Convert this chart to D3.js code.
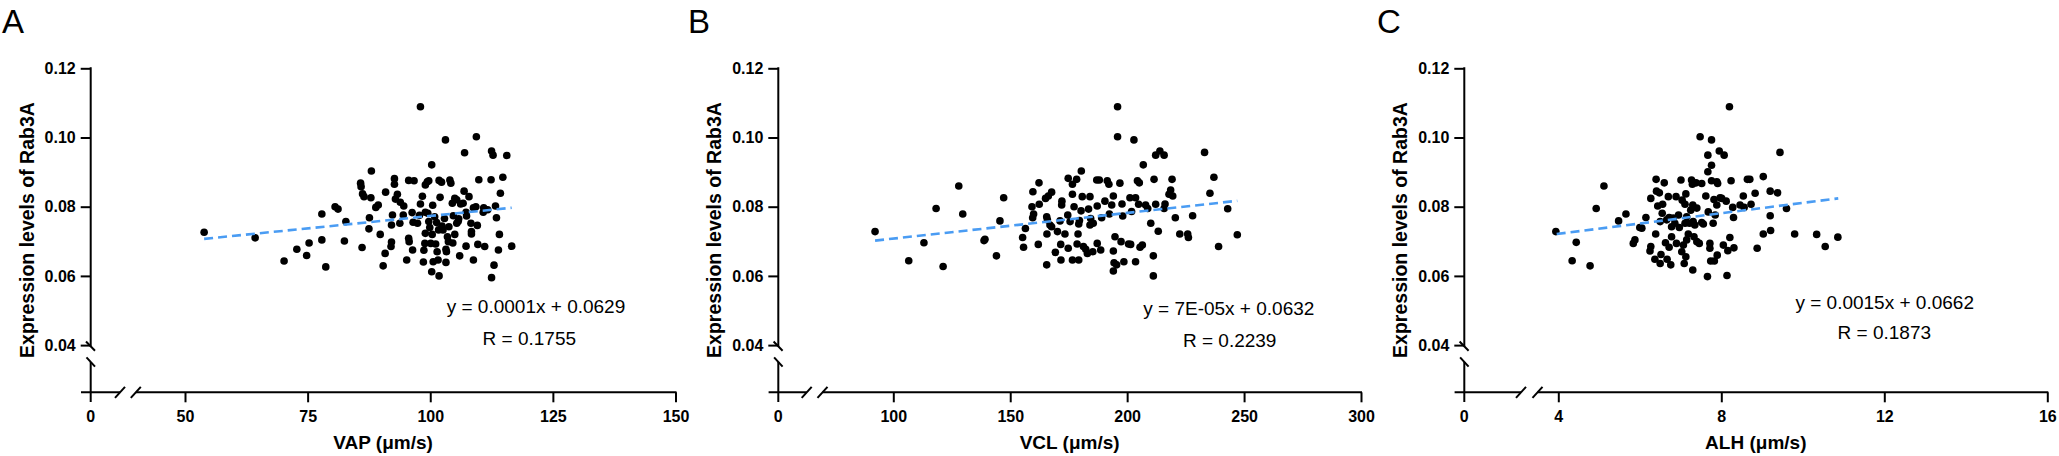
<!DOCTYPE html>
<html>
<head>
<meta charset="utf-8">
<script src="https://cdn.jsdelivr.net/npm/d3@7"></script>
<style>
  html, body { margin: 0; padding: 0; background: #fff; }
  svg { display: block; }
</style>
</head>
<body>
<svg id="chart" width="2059" height="456"></svg>
<script>
// ---------------- DATA ----------------
const yTickValues = [0.04, 0.06, 0.08, 0.10, 0.12];
const yTickLabels = ["0.04", "0.06", "0.08", "0.10", "0.12"];
const yAxisTitle = "Expression levels of Rab3A";

// Panel A: VAP
const vapTicks = [0, 50, 75, 100, 125, 150];
const vapX = [53.9,64.3,70.2,72.8,74.8,75.3,77.9,77.9,78.7,80.6,81.2,82.8,82.5,86.1,85.8,85.9,86.2,86.5,88.0,87.9,87.6,87.5,88.9,89.4,89.8,90.4,90.8,90.9,92.0,92.1,92.3,92.1,92.7,92.7,92.9,93.3,93.8,94.5,94.6,93.9,95.2,95.6,95.7,95.6,96.7,96.4,96.3,96.5,97.4,97.8,98.0,98.0,98.4,98.7,98.6,98.9,99.0,99.0,99.4,99.7,99.5,99.7,99.9,100.3,100.3,100.5,100.4,100.6,100.9,101.1,101.4,101.6,101.8,101.7,101.8,102.0,102.3,102.4,102.9,103.1,103.2,103.2,103.3,103.5,103.8,104.0,104.2,104.5,104.7,104.6,105.0,105.0,105.4,105.7,105.8,106.0,106.2,106.7,106.9,107.0,107.3,107.3,107.4,107.9,108.3,108.4,108.4,108.8,108.8,109.3,109.4,109.6,109.7,109.9,110.8,110.9,111.1,111.7,112.4,112.5,112.8,113.0,112.5,113.3,113.5,113.9,114.1,114.3,114.8,115.6,116.6,99.0,101.3,102.6,105.4,100.1,103.7];
const vapY = [0.0726,0.0710,0.0643,0.0677,0.0659,0.0695,0.0779,0.0704,0.0626,0.0800,0.0793,0.0757,0.0701,0.0682,0.0868,0.0858,0.0837,0.0829,0.0903,0.0826,0.0768,0.0736,0.0798,0.0805,0.0720,0.0629,0.0665,0.0842,0.0685,0.0698,0.0776,0.0747,0.0881,0.0865,0.0822,0.0836,0.0752,0.0776,0.0802,0.0813,0.0646,0.0709,0.0699,0.0876,0.0875,0.0675,0.0783,0.0755,0.0752,0.0775,0.1089,0.0808,0.0830,0.0674,0.0640,0.0694,0.0723,0.0863,0.0872,0.0875,0.0781,0.0757,0.0740,0.0921,0.0612,0.0804,0.0720,0.0641,0.0771,0.0692,0.0670,0.0646,0.0600,0.0733,0.0876,0.0827,0.0871,0.0744,0.0766,0.0993,0.0639,0.0677,0.0670,0.0713,0.0742,0.0877,0.0868,0.0810,0.0774,0.0695,0.0720,0.0824,0.0820,0.0758,0.0765,0.0658,0.0808,0.0810,0.0845,0.0956,0.0784,0.0686,0.0773,0.0829,0.0752,0.0728,0.0721,0.0646,0.0797,0.0800,0.1002,0.0746,0.0691,0.0878,0.0784,0.0797,0.0685,0.0791,0.0878,0.0961,0.0949,0.0631,0.0595,0.0802,0.0768,0.0675,0.0720,0.0839,0.0885,0.0948,0.0686,0.0784,0.0754,0.0733,0.0752,0.0694,0.0699];
const vapFit = [[53.9, 0.0707], [116.6, 0.0797]];
const vapEquation = "y = 0.0001x + 0.0629";
const vapR = "R = 0.1755";
const vapTitle = "VAP (μm/s)";

// Panel B: VCL
const vclTicks = [0, 100, 150, 200, 250, 300];
const vclX = [92.2,106.6,113.1,118.3,121.3,128.0,129.7,138.8,139.2,144.1,145.6,147.2,155.3,155.7,156.5,159.3,159.7,159.6,160.0,162.0,162.3,162.4,165.1,165.6,165.6,165.9,166.3,167.0,167.7,167.7,165.7,169.3,170.2,171.3,171.7,171.6,172.1,173.4,174.6,174.8,174.8,176.6,176.6,176.6,177.3,178.4,179.3,178.6,179.0,179.3,179.6,180.4,180.3,180.8,181.3,182.3,183.0,183.5,184.1,184.4,184.1,185.5,185.3,187.2,187.2,187.0,188.1,188.7,189.1,190.5,191.5,192.2,192.4,193.4,194.1,194.1,194.1,194.4,194.8,195.5,195.9,195.9,196.9,197.4,197.8,198.1,198.6,200.6,201.2,201.5,201.9,202.9,203.6,203.6,204.4,205.2,204.9,205.5,206.5,206.9,207.9,208.8,210.1,211.2,211.2,211.5,212.2,213.3,212.2,214.0,215.8,215.8,216.2,217.9,218.6,219.2,219.5,220.6,222.5,226.2,225.9,228.0,233.1,235.4,237.1,239.1,243.0,247.1,172.0,175.6];
const vclY = [0.0728,0.0644,0.0696,0.0795,0.0627,0.0860,0.0779,0.0702,0.0706,0.0658,0.0759,0.0826,0.0711,0.0683,0.0737,0.0800,0.0843,0.0768,0.0779,0.0691,0.0869,0.0807,0.0824,0.0771,0.0632,0.0762,0.0831,0.0747,0.0842,0.0742,0.0721,0.0668,0.0728,0.0759,0.0646,0.0691,0.0816,0.0721,0.0776,0.0680,0.0882,0.0865,0.0836,0.0646,0.0800,0.0879,0.0646,0.0692,0.0721,0.0750,0.0760,0.0903,0.0788,0.0829,0.0685,0.0677,0.0665,0.0793,0.0829,0.0766,0.0747,0.0752,0.0670,0.0802,0.0694,0.0877,0.0877,0.0675,0.0768,0.0816,0.0875,0.0865,0.0779,0.0805,0.0831,0.0672,0.0614,0.0638,0.0713,0.0632,0.1089,0.1002,0.0868,0.0699,0.0808,0.0773,0.0641,0.0692,0.0826,0.0691,0.0786,0.0993,0.0826,0.0641,0.0875,0.0869,0.0807,0.0683,0.0689,0.0921,0.0805,0.0795,0.0752,0.0658,0.0600,0.0879,0.0807,0.0729,0.0949,0.0961,0.0949,0.0795,0.0808,0.0836,0.0848,0.0879,0.0831,0.0768,0.0721,0.0711,0.0721,0.0774,0.0957,0.0839,0.0885,0.0685,0.0794,0.0719,0.0805,0.0757];
const vclFit = [[92.2, 0.0702], [247.1, 0.0817]];
const vclEquation = "y = 7E-05x + 0.0632";
const vclR = "R = 0.2239";
const vclTitle = "VCL (μm/s)";

// Panel C: ALH
const alhTicks = [0, 4, 8, 12, 16];
const alhX = [3.94,4.44,4.34,4.78,4.93,5.12,5.48,5.66,5.84,5.88,6.05,6.15,6.25,6.27,6.27,6.37,6.40,6.41,6.39,6.48,6.44,6.50,6.52,6.55,6.56,6.60,6.63,6.67,6.70,6.72,6.72,6.76,6.78,6.82,6.86,6.89,6.90,6.97,7.01,7.03,7.04,7.07,7.09,7.11,7.13,7.15,7.19,7.22,7.25,7.27,7.29,7.30,7.30,7.33,7.35,7.38,7.40,7.46,7.48,7.52,7.52,7.56,7.62,7.66,7.67,7.67,7.68,7.72,7.72,7.74,7.76,7.76,7.76,7.80,7.83,7.85,7.89,7.89,7.90,7.91,7.95,7.97,8.01,8.05,8.07,8.12,8.14,8.16,8.20,8.21,8.24,8.28,8.30,8.31,8.46,8.54,8.56,8.64,8.70,8.73,8.83,8.88,9.03,9.03,9.20,9.20,9.21,9.38,9.44,9.60,9.80,10.34,10.55,10.86,6.66,6.95,7.11,7.31,7.15,6.00,7.40,6.78,7.82,6.50,7.13];
const alhY = [0.0728,0.0697,0.0644,0.0629,0.0795,0.0860,0.0759,0.0779,0.0694,0.0704,0.0738,0.0769,0.0672,0.0685,0.0824,0.0648,0.0879,0.0845,0.0721,0.0840,0.0802,0.0757,0.0662,0.0781,0.0807,0.0869,0.0696,0.0648,0.0829,0.0769,0.0683,0.0632,0.0742,0.0767,0.0752,0.0829,0.0694,0.0740,0.0877,0.0670,0.0819,0.0689,0.0636,0.0807,0.0837,0.0771,0.0721,0.0752,0.0790,0.0877,0.0865,0.0617,0.0805,0.0713,0.0747,0.0869,0.0699,0.0694,0.1002,0.0867,0.0754,0.0750,0.0831,0.0598,0.0901,0.0949,0.0785,0.0694,0.0680,0.0643,0.0920,0.0993,0.0875,0.0752,0.0643,0.0776,0.0872,0.0805,0.0660,0.0867,0.0961,0.0826,0.0824,0.0689,0.0949,0.0816,0.0601,0.0673,0.1089,0.0711,0.0875,0.0798,0.0769,0.0681,0.0805,0.0831,0.0798,0.0879,0.0879,0.0807,0.0839,0.0680,0.0887,0.0721,0.0845,0.0774,0.0731,0.0840,0.0957,0.0795,0.0721,0.0720,0.0685,0.0712,0.0762,0.0776,0.0752,0.0757,0.0704,0.0740,0.0796,0.0713,0.0821,0.0636,0.0655];
const alhFit = [[3.96, 0.0721], [10.87, 0.0824]];
const alhEquation = "y = 0.0015x + 0.0662";
const alhR = "R = 0.1873";
const alhTitle = "ALH (μm/s)";

const panelLetters = ["A", "B", "C"];

// ---------------- LAYOUT (positions only) ----------------
const FONT = "'Liberation Sans', Arial, Helvetica, sans-serif";
const yTop = 68.3, yBottomVal = 345.1, xAxisY = 392.3;
const panels = [
  { letter: panelLetters[0], ox: 90.7,  dom: [50, 150], rng: [185, 675.5], breaks: [120, 135.8],
    ticks: vapTicks, xs: vapX, ys: vapY, fit: vapFit, eq: vapEquation, r: vapR, title: vapTitle,
    eqPos: [536, 312.7], rPos: [529.3, 345], letterX: 2 },
  { letter: panelLetters[1], ox: 778.3, dom: [100, 300], rng: [893.3, 1361], breaks: [806.7, 822.5],
    ticks: vclTicks, xs: vclX, ys: vclY, fit: vclFit, eq: vclEquation, r: vclR, title: vclTitle,
    eqPos: [1228.8, 314.5], rPos: [1229.7, 347], letterX: 688 },
  { letter: panelLetters[2], ox: 1464.3, dom: [4, 16], rng: [1558.3, 2047.3], breaks: [1521, 1537.5],
    ticks: alhTicks, xs: alhX, ys: alhY, fit: alhFit, eq: alhEquation, r: alhR, title: alhTitle,
    eqPos: [1884.7, 308.5], rPos: [1884.3, 339], letterX: 1377 }
];

const svg = d3.select("#chart");
const y = d3.scaleLinear().domain([0.04, 0.12]).range([yBottomVal, yTop]);

panels.forEach(p => {
  const g = svg.append("g");
  const x = d3.scaleLinear().domain(p.dom).range(p.rng);
  const ox = p.ox;
  const line = (x1, y1, x2, y2) => g.append("line")
    .attr("x1", x1).attr("y1", y1).attr("x2", x2).attr("y2", y2)
    .attr("stroke", "#000").attr("stroke-width", 2).attr("stroke-linecap", "butt");

  // Panel letter
  g.append("text").attr("x", p.letterX).attr("y", 32.5)
    .attr("font-family", FONT).attr("font-size", 33).attr("font-weight", "normal")
    .text(p.letter);

  // ----- Y axis -----
  const yAxis = d3.axisLeft(y).tickValues(yTickValues)
    .tickFormat((d, i) => yTickLabels[i]).tickSize(10).tickPadding(5);
  const ya = g.append("g").attr("transform", `translate(${ox},0)`).call(yAxis);
  ya.select(".domain").remove();
  ya.selectAll(".tick line").attr("stroke", "#000").attr("stroke-width", 2);
  ya.selectAll(".tick text").attr("font-family", FONT).attr("font-size", 16)
    .attr("font-weight", "bold").attr("fill", "#000");
  // axis segments with break
  line(ox, yTop - 1, ox, 346);
  line(ox - 4.7, 341.5, ox + 4.3, 350.7);
  line(ox - 4.2, 357.3, ox + 4.3, 366.7);
  line(ox, 362, ox, 402);

  // ----- X axis -----
  const mainTicks = p.ticks.filter(t => t !== 0);
  const xAxis = d3.axisBottom(x).tickValues(mainTicks)
    .tickFormat(d3.format("d")).tickSize(10).tickPadding(8);
  const xa = g.append("g").attr("transform", `translate(0,${xAxisY})`).call(xAxis);
  xa.select(".domain").remove();
  xa.selectAll(".tick line").attr("stroke", "#000").attr("stroke-width", 2);
  xa.selectAll(".tick text").attr("font-family", FONT).attr("font-size", 16)
    .attr("font-weight", "bold").attr("fill", "#000");
  // zero tick label at the y axis
  if (p.ticks.includes(0)) {
    g.append("text").attr("x", ox).attr("y", xAxisY + 10 + 8).attr("dy", "0.71em")
      .attr("text-anchor", "middle").attr("font-family", FONT).attr("font-size", 16)
      .attr("font-weight", "bold").text(d3.format("d")(0));
  }
  line(ox - 9.7, xAxisY, p.breaks[0], xAxisY);
  line(p.breaks[0] - 5, xAxisY + 5.5, p.breaks[0] + 5, xAxisY - 5.5);
  line(p.breaks[1] - 5, xAxisY + 5.5, p.breaks[1] + 5, xAxisY - 5.5);
  line(p.breaks[1], xAxisY, p.rng[1] + 1, xAxisY);

  // ----- Titles -----
  g.append("text").attr("transform", `translate(${ox - 57},230) rotate(-90)`)
    .attr("text-anchor", "middle").attr("font-family", FONT).attr("font-size", 19.5)
    .attr("font-weight", "bold").text(yAxisTitle);
  g.append("text").attr("x", (ox + p.rng[1]) / 2).attr("y", 449)
    .attr("text-anchor", "middle").attr("font-family", FONT).attr("font-size", 19)
    .attr("font-weight", "bold").text(p.title);

  // ----- Points -----
  const pts = p.xs.map((v, i) => [v, p.ys[i]]);
  g.append("g").selectAll("circle").data(pts).join("circle")
    .attr("cx", d => x(d[0])).attr("cy", d => y(d[1])).attr("r", 3.8).attr("fill", "#000");

  // ----- Fit line -----
  g.append("path").datum(p.fit)
    .attr("d", d3.line().x(d => x(d[0])).y(d => y(d[1])))
    .attr("fill", "none").attr("stroke", "#4a9cf3").attr("stroke-width", 2.6)
    .attr("stroke-dasharray", "9,5");

  // ----- Equation text -----
  g.append("text").attr("x", p.eqPos[0]).attr("y", p.eqPos[1]).attr("text-anchor", "middle")
    .attr("font-family", FONT).attr("font-size", 19).text(p.eq);
  g.append("text").attr("x", p.rPos[0]).attr("y", p.rPos[1]).attr("text-anchor", "middle")
    .attr("font-family", FONT).attr("font-size", 19).text(p.r);
});
</script>
</body>
</html>
